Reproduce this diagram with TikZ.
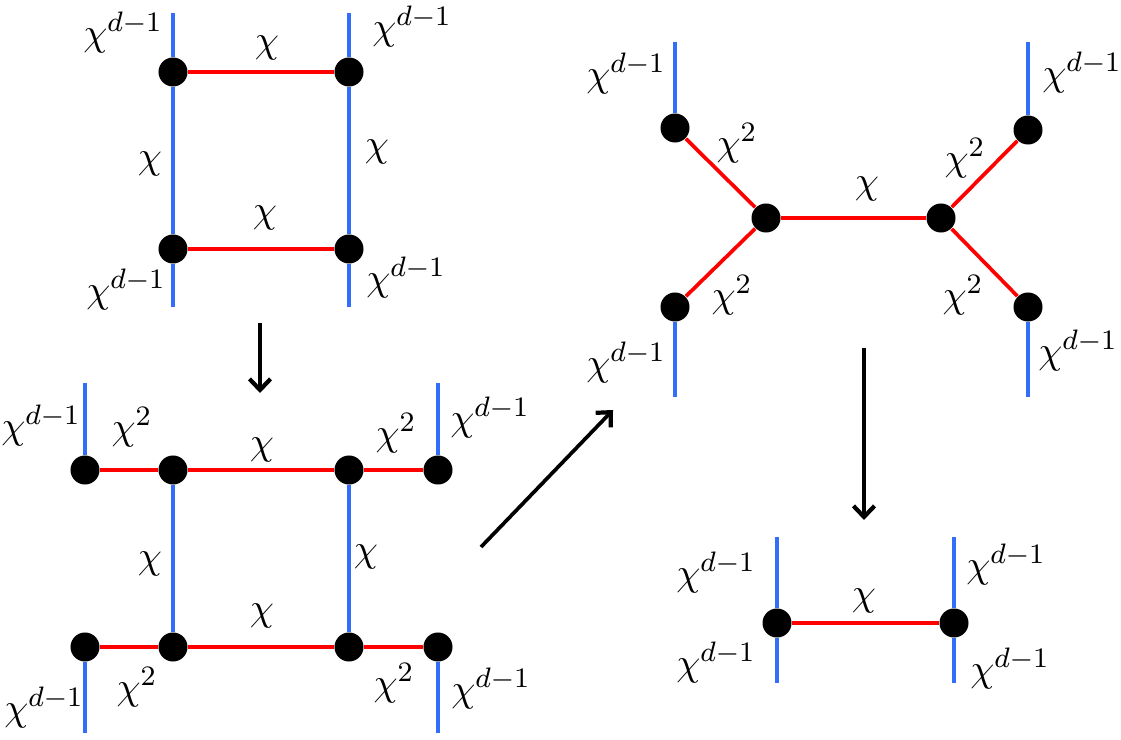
\documentclass[tikz,border=0pt]{standalone}
\usepackage{tikz}
\usetikzlibrary{arrows.meta}

\definecolor{legblue}{RGB}{50,110,250}
\tikzset{
    dot/.style={circle,fill=black,inner sep=0pt,minimum size=0.29cm},
    leg/.style={draw=legblue,line width=1.15pt},
    bond/.style={draw=red,line width=1.05pt},
    move/.style={-{Straight Barb[length=1.1mm,width=2.1mm,line width=1.2pt]},line width=1.05pt},
}

\begin{document}
\begin{tikzpicture}[x=0.01cm,y=-0.01cm,font=\fontsize{11}{13}\selectfont]
        \useasboundingbox (0,0) rectangle (1121,740);
        % square
        \foreach \n/\x/\y in {a1/173/72,a2/349/72,a3/173/249,a4/349/249} {
            \node[dot] (\n) at (\x,\y) {};
        }
        \coordinate (a1t) at (173,13);
        \coordinate (a2t) at (349,13);
        \coordinate (a3b) at (173,307);
        \coordinate (a4b) at (349,307);
        \path[leg] (a1t) -- (a1) -- (a3) -- (a3b);
        \path[leg] (a2t) -- (a2) -- (a4) -- (a4b);
        \path[bond] (a1) -- (a2) (a3) -- (a4);
        \foreach \n/\x/\y/\t in {la1/123/32/\chi^{d-1},la2/412/26/\chi^{d-1},
                la3/267/48/\chi,la4/150/164/\chi,la5/377/152/\chi,la6/265/218/\chi,
                la7/126/289/\chi^{d-1},la8/406/277/\chi^{d-1}} {
            \node (\n) at (\x,\y) {$\t$};
        }
        \coordinate (m1s) at (260,323);
        \coordinate (m1e) at (260,393);
        \draw[move] (m1s) -- (m1e);
        % square with split legs
        \foreach \n/\x/\y in {c1/85/470,c2/173/470,c3/349/470,c4/438/470,
                c5/85/647,c6/173/647,c7/349/647,c8/438/647} {
            \node[dot] (\n) at (\x,\y) {};
        }
        \coordinate (c1t) at (85,383);
        \coordinate (c4t) at (438,383);
        \coordinate (c5b) at (85,733);
        \coordinate (c8b) at (438,733);
        \path[leg] (c1t) -- (c1) (c4t) -- (c4) (c2) -- (c6) (c3) -- (c7)
            (c5) -- (c5b) (c8) -- (c8b);
        \path[bond] (c1) -- (c2) -- (c3) -- (c4) (c5) -- (c6) -- (c7) -- (c8);
        \foreach \n/\x/\y/\t in {lc1/41/425/\chi^{d-1},lc2/132/427/\chi^2,
                lc3/262/450/\chi,lc4/396/433/\chi^2,lc5/490/417/\chi^{d-1},
                lc6/150/564/\chi,lc7/366/557/\chi,lc8/262/616/\chi,
                lc9/44/707/\chi^{d-1},lc10/137/687/\chi^2,lc11/394/683/\chi^2,
                lc12/491/688/\chi^{d-1}} {
            \node (\n) at (\x,\y) {$\t$};
        }
        \coordinate (m2s) at (481,547);
        \coordinate (m2e) at (613,410);
        \draw[move] (m2s) -- (m2e);
        % tree
        \foreach \n/\x/\y in {b1/675/128,b2/766/218,b3/941/218,b4/1028/130,
                b5/675/307,b6/1028/307} {
            \node[dot] (\n) at (\x,\y) {};
        }
        \coordinate (b1t) at (675,42);
        \coordinate (b4t) at (1028,42);
        \coordinate (b5b) at (675,397);
        \coordinate (b6b) at (1028,397);
        \path[leg] (b1t) -- (b1) (b4t) -- (b4) (b5) -- (b5b) (b6) -- (b6b);
        \path[bond] (b1) -- (b2) -- (b3) -- (b4) (b2) -- (b5) (b3) -- (b6);
        \foreach \n/\x/\y/\t in {lb1/626/73/\chi^{d-1},lb2/737/143/\chi^2,
                lb3/867/189/\chi,lb4/965/158/\chi^2,lb5/1082/72/\chi^{d-1},
                lb6/732/295/\chi^2,lb7/963/295/\chi^2,lb8/626/362/\chi^{d-1},
                lb9/1078/350/\chi^{d-1}} {
            \node (\n) at (\x,\y) {$\t$};
        }
        \coordinate (m3s) at (864,348);
        \coordinate (m3e) at (864,520);
        \draw[move] (m3s) -- (m3e);
        % single bond
        \node[dot] (d1) at (777,623) {};
        \node[dot] (d2) at (954,623) {};
        \coordinate (d1t) at (777,537);
        \coordinate (d1b) at (777,683);
        \coordinate (d2t) at (954,537);
        \coordinate (d2b) at (954,683);
        \path[leg] (d1t) -- (d1) -- (d1b) (d2t) -- (d2) -- (d2b);
        \path[bond] (d1) -- (d2);
        \foreach \n/\x/\y/\t in {ld1/716/572/\chi^{d-1},ld2/864/601/\chi,
                ld3/1006/564/\chi^{d-1},ld4/716/662/\chi^{d-1},
                ld5/1010/668/\chi^{d-1}} {
            \node (\n) at (\x,\y) {$\t$};
        }
\end{tikzpicture}
\end{document}
